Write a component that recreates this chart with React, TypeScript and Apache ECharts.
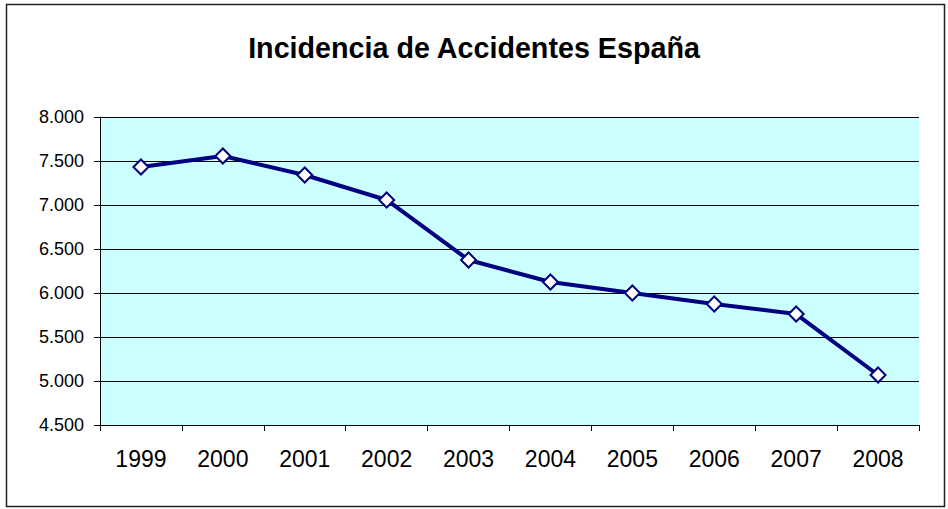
import React, { useEffect, useRef } from "react";
import * as echarts from "echarts";

const years = ["1999", "2000", "2001", "2002", "2003", "2004", "2005", "2006", "2007", "2008"];
const incidence = [7432, 7557, 7341, 7057, 6375, 6125, 6000, 5875, 5761, 5068];
const titleText = "Incidencia de Accidentes España";

const fmt = (v: number) => {
  const s = String(Math.round(v));
  return s.slice(0, s.length - 3) + "." + s.slice(s.length - 3);
};

const FONT = "'Liberation Sans', Arial, sans-serif";

export default function App() {
  const ref = useRef<HTMLDivElement>(null);
  useEffect(() => {
    if (!ref.current) return;
    const chart = echarts.init(ref.current, null, { renderer: "svg" });
    chart.setOption({
      animation: false,
      backgroundColor: "#ffffff",
      textStyle: { fontFamily: FONT },
      title: {
        text: titleText,
        left: "center",
        top: 28,
        textStyle: { fontSize: 28.7, fontWeight: "bold", color: "#000", fontFamily: FONT },
      },
      graphic: [
        {
          type: "rect",
          shape: { x: 6.5, y: 4.5, width: 938, height: 502 },
          style: { fill: "none", stroke: "#222", lineWidth: 1.5 },
          silent: true,
        },
      ],
      grid: {
        left: 100,
        right: 29,
        top: 117,
        bottom: 84,
        show: true,
        backgroundColor: "#CCFFFF",
        borderWidth: 0,
      },
      xAxis: {
        type: "category",
        data: years,
        boundaryGap: true,
        axisLine: { show: true, lineStyle: { color: "#000", width: 1 } },
        axisTick: { show: true, length: 6, inside: false, alignWithLabel: false, lineStyle: { color: "#000" } },
        axisLabel: { fontSize: 23, color: "#000", margin: 22, fontFamily: FONT },
        splitLine: { show: false },
      },
      yAxis: {
        type: "value",
        min: 4500,
        max: 8000,
        interval: 500,
        axisLine: { show: true, lineStyle: { color: "#000", width: 1 } },
        axisTick: { show: true, length: 6, lineStyle: { color: "#000" } },
        axisLabel: { fontSize: 18, color: "#000", margin: 16, formatter: fmt, fontFamily: FONT },
        splitLine: { show: true, lineStyle: { color: "#000", width: 1 } },
      },
      series: [
        {
          type: "line",
          data: incidence,
          symbol: "diamond",
          symbolSize: 15,
          lineStyle: { color: "#000080", width: 4 },
          itemStyle: { color: "#ffffff", borderColor: "#000080", borderWidth: 2 },
        },
      ],
    });
    return () => chart.dispose();
  }, []);
  return (
    <div
      ref={ref}
      style={{ position: "fixed", left: 0, top: 0, width: 948, height: 509 }}
    />
  );
}
